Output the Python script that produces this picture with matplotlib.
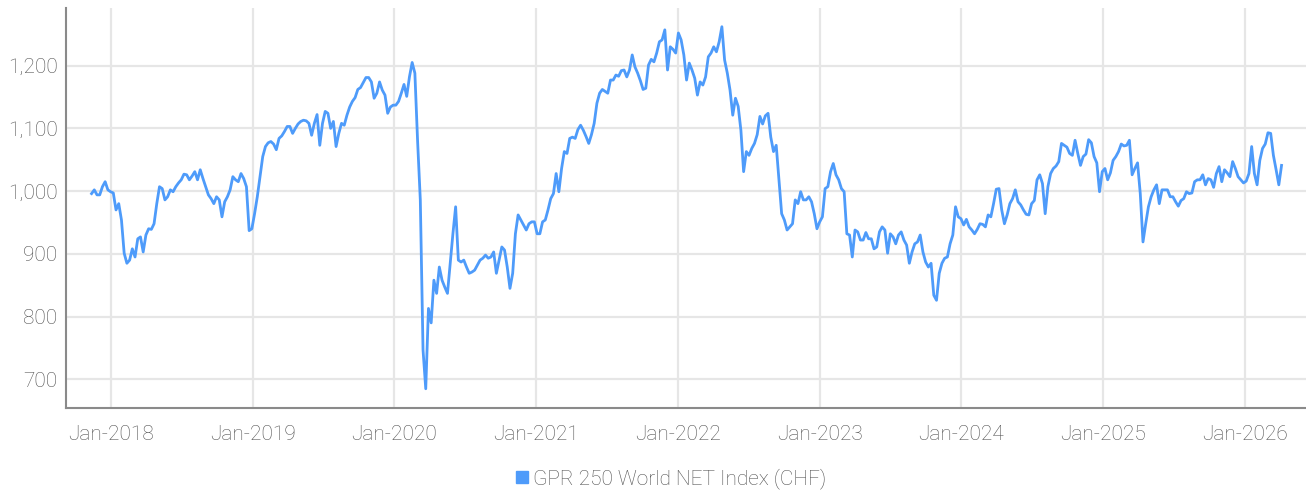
import numpy as np
import pandas as pd
import matplotlib
matplotlib.use("Agg")
import matplotlib.pyplot as plt
import matplotlib.dates as mdates
from matplotlib.lines import Line2D
from matplotlib.ticker import FuncFormatter

# weekly closes of the index (first week: 12 Nov 2017)
start_date = "2017-11-12"

vals_2017_2018 = [
    996, 1002, 994, 994, 1007, 1015, 1002, 999, 997, 970, 980, 954, 901, 885, 890, 908,
    895, 924, 927, 903, 930, 940, 939, 948, 980, 1007, 1004, 986, 991, 1002, 999, 1007,
    1013, 1018, 1027, 1026, 1018, 1024, 1031, 1018, 1034, 1020, 1007, 994, 988, 980, 991, 986,
    959, 983, 991, 1002, 1023, 1018, 1015, 1028, 1020, 1007, 937, 940, 964, 991,
]
vals_2019 = [
    1023, 1055, 1071, 1077, 1079, 1075, 1066, 1084, 1088, 1095, 1103, 1103, 1092, 1100, 1107, 1111,
    1113, 1112, 1108, 1089, 1108, 1122, 1073, 1108, 1127, 1124, 1100, 1111, 1071, 1092, 1108, 1105,
    1121, 1134, 1143, 1149, 1162, 1165, 1173, 1181, 1181, 1174, 1148, 1156, 1174, 1161, 1153, 1124,
    1134, 1137, 1137, 1143, 1156, 1170, 1151, 1182, 1205, 1188,
]
vals_2020 = [
    1080, 986, 747, 685, 813, 790, 858, 837, 879, 858, 847, 837, 885, 932, 975, 890,
    887, 890, 879, 869, 871, 874, 882, 890, 893, 898, 893, 895, 903, 869, 890, 911,
    906, 879, 845, 869, 932, 962, 954, 946, 938, 948, 951, 951, 932, 932, 951, 954,
    970, 988, 996, 1028, 999, 1036, 1063, 1060, 1084, 1086, 1084, 1098,
]
vals_2021 = [
    1105, 1097, 1087, 1076, 1090, 1108, 1140, 1156, 1162, 1159, 1156, 1177, 1177, 1185, 1183, 1192,
    1193, 1182, 1193, 1217, 1198, 1188, 1176, 1162, 1164, 1201, 1210, 1206, 1220, 1238, 1241, 1257,
    1193, 1230, 1226, 1220, 1252, 1241,
]
vals_2022 = [
    1217, 1177, 1204, 1193, 1180, 1153, 1174, 1169, 1182, 1214, 1220, 1230, 1222, 1238, 1262, 1209,
    1188, 1161, 1121, 1148, 1135, 1097, 1031, 1063, 1057, 1068, 1076, 1090, 1119, 1107, 1120, 1124,
    1086, 1063, 1073, 1018, 964, 954, 938, 943, 948, 986, 980, 999, 986, 986, 991, 983,
    964, 940, 951, 959,
]
vals_2023 = [
    1004, 1007, 1031, 1044, 1026, 1018, 1004, 999, 932, 930, 895, 938, 935, 922, 922, 934,
    924, 924, 908, 911, 935, 943, 938, 901, 932, 927, 916, 930, 935, 922, 914, 885,
    903, 916, 919, 930, 903, 887, 879, 885, 834, 826, 869, 885, 893, 895, 916, 930,
    975, 959, 956, 946, 955,
]
vals_2024 = [
    943, 938, 932, 939, 948, 947, 943, 962, 959, 980, 1003, 1004, 970, 948, 962, 980,
    988, 1002, 983, 978, 970, 963, 962, 980, 985, 1018, 1026, 1012, 964, 1007, 1028, 1036,
    1040, 1047, 1076, 1073, 1070, 1060, 1057, 1081, 1060, 1041, 1055, 1059, 1082, 1077, 1055, 1045,
    999, 1031, 1036, 1018,
]
vals_2025_2026 = [
    1029, 1049, 1055, 1063, 1075, 1072, 1073, 1081, 1026, 1036, 1045, 996, 919, 948, 975, 991,
    1002, 1010, 980, 1002, 1002, 1002, 991, 991, 983, 976, 985, 988, 999, 996, 997, 1015,
    1018, 1018, 1026, 1010, 1020, 1018, 1006, 1028, 1039, 1015, 1034, 1029, 1023, 1047, 1036, 1023,
    1018, 1013, 1016, 1028, 1071, 1028, 1010, 1049, 1068, 1075, 1093, 1092, 1057, 1034, 1010, 1041,
]

index_values = (vals_2017_2018 + vals_2019 + vals_2020 + vals_2021
                + vals_2022 + vals_2023 + vals_2024 + vals_2025_2026)
dates = pd.date_range(start_date, periods=len(index_values), freq="7D")

series_name = "GPR 250 World NET Index (CHF)"
y_ticks = [700, 800, 900, 1000, 1100, 1200]
x_tick_years = list(range(2018, 2027))

line_color = "#4e9bfa"
text_color = "#505050"
grid_color = "#e6e6e6"
spine_color = "#8a8a8a"

plt.rcParams["font.family"] = ["Roboto", "DejaVu Sans"]

fig = plt.figure(figsize=(13.06, 4.93), dpi=100)
ax = fig.add_axes([0.0505, 0.172, 0.9495, 0.812])

ax.plot(dates, index_values, color=line_color, linewidth=2.0, solid_joinstyle="round")

ax.set_ylim(654, 1292)
ax.set_xlim(pd.Timestamp("2017-09-07"), pd.Timestamp("2026-06-07"))

ax.set_yticks(y_ticks)
ax.yaxis.set_major_formatter(FuncFormatter(lambda v, p: f"{int(v):,}"))
ax.set_xticks([pd.Timestamp(f"{y}-01-01") for y in x_tick_years])
ax.xaxis.set_major_formatter(mdates.DateFormatter("%b-%Y"))

ax.grid(True, color=grid_color, linewidth=1.6)
ax.set_axisbelow(True)
for side in ["top", "right"]:
    ax.spines[side].set_visible(False)
for side in ["left", "bottom"]:
    ax.spines[side].set_color(spine_color)
    ax.spines[side].set_linewidth(1.5)

ax.tick_params(axis="both", length=0, labelsize=15, labelcolor=text_color)
ax.tick_params(axis="x", pad=12)
ax.tick_params(axis="y", pad=6)
for lbl in ax.get_xticklabels() + ax.get_yticklabels():
    lbl.set_fontweight("light")

handle = Line2D([], [], marker="s", linestyle="none", markersize=8,
                markerfacecolor=line_color, markeredgecolor=line_color)
leg = fig.legend([handle], [series_name], loc="lower center", bbox_to_anchor=(0.513, -0.03),
                 frameon=False, handletextpad=0.1, handlelength=0.8,
                 prop={"size": 15, "weight": "light"})
for t in leg.get_texts():
    t.set_color(text_color)

fig.savefig("out.png", dpi=100)
